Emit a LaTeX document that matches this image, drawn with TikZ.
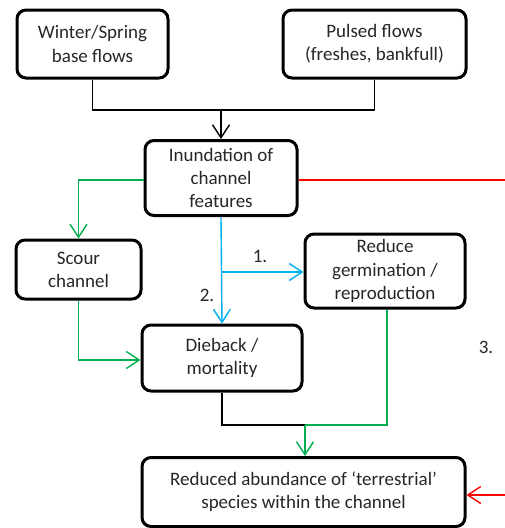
\documentclass[tikz,border=0pt]{standalone}
\usepackage{fontspec}
\setmainfont{Carlito}
\usetikzlibrary{arrows.meta}
\definecolor{cgreen}{RGB}{0,176,80}
\definecolor{cblue}{RGB}{0,176,240}
\definecolor{cred}{RGB}{255,0,0}
\tikzset{
  box/.style={draw=black, line width=3pt, rounded corners=9pt, align=center, inner sep=0pt,
    font=\fontsize{19}{23.2}\selectfont, text=black!85},
  conn/.style={line width=1.4pt},
  tip/.style={-{Straight Barb[length=13pt,width=17pt,line width=1.4pt]}},
  lbl/.style={font=\fontsize{19}{22}\selectfont, text=black!85}
}
\begin{document}
\begin{tikzpicture}[x=1pt,y=-1pt]
\useasboundingbox (0,0) rectangle (505,528);
% boxes
\node[box, minimum width=151pt, minimum height=68pt] (ws) at (92.5,44) {Winter/Spring\\base flows};
\node[box, minimum width=183pt, minimum height=68pt] (pf) at (374.5,44) {Pulsed flows\\(freshes, bankfull)};
\node[box, minimum width=152pt, minimum height=75pt] (in) at (221,178) {Inundation of\\channel\\features};
\node[box, minimum width=125pt, minimum height=59pt] (sc) at (78.5,269.5) {Scour\\channel};
\node[box, minimum width=160pt, minimum height=74pt] (rg) at (385,271) {Reduce\\germination /\\reproduction};
\node[box, minimum width=160pt, minimum height=66pt] (db) at (222,358) {Dieback /\\mortality};
\node[box, minimum width=323pt, minimum height=69pt] (ra) at (303.5,492) {Reduced abundance of `terrestrial'\\species within the channel};
% coordinates
\coordinate (j1) at (221,110);
\coordinate (redend) at (505,180);
\coordinate (redin) at (505,495);
\coordinate (j2) at (305,425);
% black top merge
\draw[conn] (ws.south) |- (j1) -| (pf.south);
\draw[conn, tip] (j1) -- (in.north);
% green to scour
\draw[conn, cgreen, tip] (in.west |- 0,180) -| (sc.north);
% red
\draw[conn, cred] (in.east |- 0,180) -- (redend);
\draw[conn, cred, tip] (redin) -- (ra.east |- redin);
% blue
\draw[conn, cblue, tip] (in.south) -- (db.north);
\draw[conn, cblue, tip] (221,272) -- (rg.west |- 0,272);
% green scour to dieback
\draw[conn, cgreen, tip] (sc.south) |- (db.west |- 0,360);
% dieback down
\draw[conn] (db.south) |- (j2);
\draw[conn, cgreen] (rg.south -| 387,0) |- (j2);
\draw[conn, cgreen, tip] (j2) -- (ra.north -| j2);
% labels
\node[lbl] (l1) at (260,256) {1.};
\node[lbl] (l2) at (207,295) {2.};
\node[lbl] (l3) at (486,347) {3.};
\end{tikzpicture}
\end{document}
